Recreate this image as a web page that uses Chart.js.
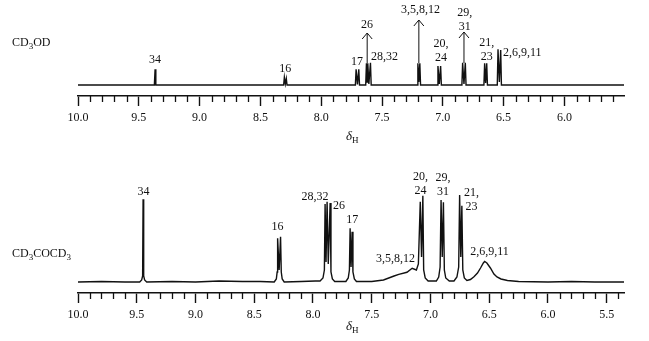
<!DOCTYPE html>
<html>
<head>
<meta charset="utf-8">
<script src="https://cdn.jsdelivr.net/npm/chart.js@4.4.1/dist/chart.umd.min.js"></script>
<style>
  body { margin: 0; background: #fff; }
  #wrap { position: relative; width: 649px; height: 341px; font-family: "Liberation Serif", "Times New Roman", serif; color: #111; }
  canvas { position: absolute; left: 0; }
  .solvent { position: absolute; left: 12px; font-size: 12px; line-height: 14px; white-space: nowrap; }
  .solvent sub { font-size: 9px; line-height: 0; vertical-align: -3px; }
  .delta { position: absolute; font-size: 13px; line-height: 14px; white-space: nowrap; }
  .delta i { font-style: italic; }
  .delta sub { font-size: 9px; line-height: 0; vertical-align: -3px; }
</style>
</head>
<body>
<div id="wrap">
  <canvas id="topChart" width="649" height="170" style="top:0"></canvas>
  <canvas id="bottomChart" width="649" height="171" style="top:170px"></canvas>
  <div class="solvent" style="top:35px">CD<sub>3</sub>OD</div>
  <div class="solvent" style="top:246px">CD<sub>3</sub>COCD<sub>3</sub></div>
  <div class="delta" style="left:346px; top:129px"><i>δ</i><sub>H</sub></div>
  <div class="delta" style="left:346px; top:319px"><i>δ</i><sub>H</sub></div>
</div>
<script>
// CD3OD spectrum (shift in ppm, intensity in arbitrary units above baseline)
const cd3odShift = [
  10.0,
  9.372, 9.366, 9.360,
  8.309, 8.303, 8.295, 8.287, 8.281,
  7.719, 7.713, 7.702, 7.691, 7.685,
  7.634, 7.628, 7.622, 7.617, 7.608, 7.595, 7.589,
  7.211, 7.205, 7.197, 7.189, 7.183,
  7.046, 7.040, 7.029, 7.018, 7.012,
  6.843, 6.837, 6.826, 6.815, 6.809,
  6.662, 6.656, 6.648, 6.639, 6.633,
  6.552, 6.546, 6.535, 6.524, 6.518,
  5.50
];
const cd3odIntensity = [
  0,
  0, 15.7, 0,
  0, 7.7, 1, 6.3, 0,
  0, 15.7, 0.5, 15.7, 0,
  0, 21.7, 3, 21.7, 1, 22.3, 0,
  0, 21.7, 3, 21.7, 0,
  0, 19, 1, 19, 0,
  0, 22.3, 1, 22.3, 0,
  0, 21.7, 2, 21.7, 0,
  0, 35.7, 3, 35, 0,
  0
];

// CD3COCD3 spectrum
const acetoneShift = [
  10.0, 9.8, 9.6,
  9.475, 9.458, 9.450, 9.446, 9.441, 9.433, 9.415,
  9.2, 9.0, 8.8, 8.6, 8.45,
  8.33, 8.312, 8.305, 8.301, 8.288, 8.276, 8.270, 8.262, 8.245,
  8.1, 7.98,
  7.94, 7.915, 7.903, 7.897, 7.889, 7.880, 7.870, 7.854, 7.847, 7.835, 7.815,
  7.72, 7.700, 7.690, 7.684, 7.676, 7.667, 7.660, 7.648, 7.63,
  7.50, 7.40, 7.31, 7.27, 7.20, 7.156, 7.12, 7.103,
  7.087, 7.076, 7.065, 7.058, 7.045, 7.02,
  6.95, 6.93, 6.918, 6.910, 6.900, 6.890, 6.882, 6.870, 6.84,
  6.80, 6.775, 6.760, 6.752, 6.742, 6.733, 6.725, 6.712, 6.69,
  6.66, 6.63, 6.60, 6.574, 6.55, 6.539, 6.52, 6.49, 6.46, 6.434, 6.40, 6.345, 6.25,
  6.0, 5.8, 5.6, 5.353
];
const acetoneIntensity = [
  0, 0.5, 0,
  0, 2, 6, 82.7, 6, 2, 0,
  0.5, 0, 1, 0.5, 0.5,
  0, 3, 10, 43.7, 12, 45.3, 10, 3, 0,
  0.5, 1,
  1, 4, 12, 78, 20, 80.3, 18, 79, 10, 3, 0.5,
  0.5, 4, 12, 53.7, 15, 50.3, 10, 3, 0.5,
  0.5, 2, 6, 7.7, 9.7, 13.7, 12, 18,
  80.3, 25, 86.3, 12, 4, 1,
  1, 5, 15, 82, 25, 79.7, 12, 4, 1,
  1, 5, 15, 87, 25, 76.3, 12, 4, 1.5,
  2.5, 5.3, 9, 14, 19, 20.5, 19, 14, 8, 5, 3, 1.5, 0.5,
  0, 0.5, 0, 0
];

// peak assignments: text (\n = new line), shift of label centre, level of first line centre
const cd3odLabelText = ["34", "16", "17", "26", "28,32", "3,5,8,12", "20,\n24", "29,\n31", "21,\n23", "2,6,9,11"];
const cd3odLabelShift = [9.366, 8.295, 7.706, 7.624, 7.479, 7.183, 7.014, 6.820, 6.639, 6.346];
const cd3odLabelLevel = [25, 16, 23, 60, 28, 75, 41, 72, 42, 32];

const acetoneLabelText = ["34", "16", "28,32", "26", "17", "3,5,8,12", "20,\n24", "29,\n31", "21,\n23", "2,6,9,11"];
const acetoneLabelShift = [9.443, 8.302, 7.983, 7.779, 7.666, 7.298, 7.085, 6.894, 6.651, 6.498];
const acetoneLabelLevel = [90, 55, 85, 76, 62, 23, 105, 104, 89, 30];

// off-scale peaks in CD3OD, marked with arrows
const cd3odArrowShift = [7.622, 7.197, 6.826];
const cd3odArrowFrom = [22, 22, 22];
const cd3odArrowTip = [52, 65, 53];

const FONT = '"Liberation Serif", "Times New Roman", serif';

function toPoints(xs, ys) {
  return xs.map((x, i) => ({ x: x, y: ys[i] }));
}

function makeMarks(labels, arrows) {
  return {
    id: "nmrMarks",
    afterDraw(chart) {
      const ctx = chart.ctx;
      const xs = chart.scales.x;
      const ys = chart.scales.y;
      const axisY = chart.chartArea.bottom;
      ctx.save();
      ctx.strokeStyle = "#111";
      ctx.fillStyle = "#111";

      // minor ticks every 0.1 ppm
      ctx.lineWidth = 1.3;
      for (let i = 0; i < 60; i++) {
        const v = 10 - i * 0.1;
        if (v < xs.min - 1e-6) break;
        if (i % 5 === 0) continue;
        const px = Math.round(xs.getPixelForValue(v)) + 0.5;
        ctx.beginPath();
        ctx.moveTo(px, axisY);
        ctx.lineTo(px, axisY + 6);
        ctx.stroke();
      }

      // arrows
      ctx.lineWidth = 1;
      arrows.shift.forEach((s, i) => {
        const px = xs.getPixelForValue(s);
        const y0 = ys.getPixelForValue(arrows.from[i]);
        const y1 = ys.getPixelForValue(arrows.tip[i]);
        ctx.beginPath();
        ctx.moveTo(px, y0);
        ctx.lineTo(px, y1);
        ctx.moveTo(px - 5, y1 + 6);
        ctx.lineTo(px, y1);
        ctx.lineTo(px + 5, y1 + 6);
        ctx.stroke();
      });

      // labels
      ctx.font = "12px " + FONT;
      ctx.textAlign = "center";
      ctx.textBaseline = "middle";
      labels.text.forEach((t, i) => {
        const px = xs.getPixelForValue(labels.shift[i]);
        const py = ys.getPixelForValue(labels.level[i]);
        t.split("\n").forEach((line, k) => {
          ctx.fillText(line, px, py + k * 13.5);
        });
      });
      ctx.restore();
    }
  };
}

function makeChart(id, xs, ys, opts) {
  return new Chart(document.getElementById(id), {
    type: "line",
    data: {
      datasets: [{
        data: toPoints(xs, ys),
        borderColor: "#111",
        borderWidth: 1.4,
        pointRadius: 0,
        tension: 0,
        fill: false
      }]
    },
    options: {
      responsive: false,
      animation: false,
      parsing: false,
      layout: { padding: { left: 78, right: 25, top: opts.top, bottom: 0 } },
      plugins: { legend: { display: false }, tooltip: { enabled: false } },
      scales: {
        x: {
          type: "linear",
          reverse: true,
          min: opts.min,
          max: 10,
          afterFit(scale) { scale.height = opts.axisHeight; },
          border: { display: true, color: "#111", width: 1.6 },
          grid: { display: true, drawOnChartArea: false, drawTicks: true, tickLength: 10, tickColor: "#111", tickWidth: 1.4 },
          ticks: {
            stepSize: 0.5,
            includeBounds: false,
            autoSkip: false,
            maxRotation: 0,
            padding: 5,
            color: "#111",
            font: { family: FONT, size: 12 },
            callback: v => Number(v).toFixed(1)
          }
        },
        y: { display: false, min: -11, max: opts.ymax }
      }
    },
    plugins: [makeMarks(opts.labels, opts.arrows)]
  });
}

makeChart("topChart", cd3odShift, cd3odIntensity, {
  min: 5.51, ymax: 80, top: 5, axisHeight: 74,
  labels: { text: cd3odLabelText, shift: cd3odLabelShift, level: cd3odLabelLevel },
  arrows: { shift: cd3odArrowShift, from: cd3odArrowFrom, tip: cd3odArrowTip }
});

makeChart("bottomChart", acetoneShift, acetoneIntensity, {
  min: 5.353, ymax: 92, top: 20, axisHeight: 48,
  labels: { text: acetoneLabelText, shift: acetoneLabelShift, level: acetoneLabelLevel },
  arrows: { shift: [], from: [], tip: [] }
});
</script>
</body>
</html>
